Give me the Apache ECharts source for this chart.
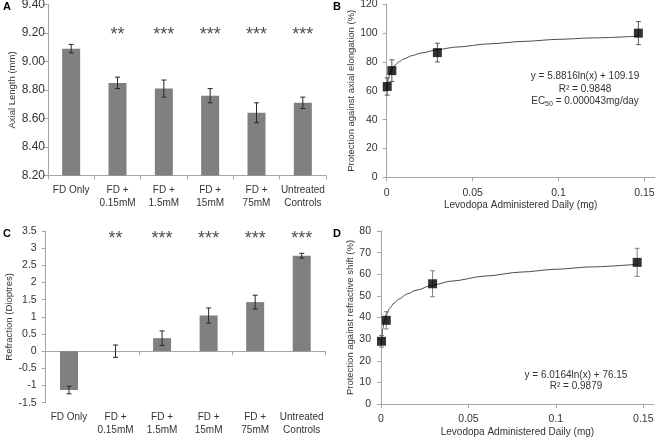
<!DOCTYPE html>
<html><head><meta charset="utf-8">
<script src="https://cdn.jsdelivr.net/npm/echarts/dist/echarts.min.js"></script>
<style>html,body{margin:0;padding:0;background:#fff}#c{width:658px;height:438px}</style>
</head><body><div id="c"></div>
<script>
// ---- data ----
const categories = ['FD Only', 'FD +\n0.15mM', 'FD +\n1.5mM', 'FD +\n15mM', 'FD +\n75mM', 'Untreated\nControls'];
const axialLength = [9.09, 8.85, 8.81, 8.76, 8.64, 8.71];
const axialLengthErr = [0.03, 0.04, 0.06, 0.05, 0.07, 0.04];
const refraction = [-1.13, 0.0, 0.38, 1.04, 1.43, 2.78];
const refractionErr = [0.11, 0.18, 0.21, 0.22, 0.20, 0.07];
const significance = ['', '**', '***', '***', '***', '***'];
const starLevelA = 9.185;
const starLevelC = 3.28;
const doseMg = [0.0003, 0.003, 0.0295, 0.1465];
const protectionAxial = [63, 74, 86.5, 100];
const protectionAxialErr = [6, 7.5, 6.5, 8];
const protectionRefraction = [29, 38.7, 55.6, 65.5];
const protectionRefractionErr = [2.7, 4, 6, 6.5];
const trendDose = [0.0003, 0.001, 0.002, 0.003, 0.005, 0.0075, 0.01, 0.015, 0.02, 0.03, 0.04, 0.06, 0.08, 0.1, 0.12, 0.1465];
const trendAxial = [61.5, 68.6, 72.6, 75.0, 78.0, 80.4, 82.1, 84.5, 86.2, 88.6, 90.3, 92.6, 94.3, 95.7, 96.7, 97.9];
const trendRefraction = [27.4, 34.6, 38.8, 41.2, 44.3, 46.7, 48.4, 50.9, 52.6, 55.1, 56.8, 59.2, 61.0, 62.3, 63.4, 64.6];
const yTicksA = {min: 8.2, max: 9.4, interval: 0.2};
const yTicksC = {min: -1.5, max: 3.5, interval: 0.5};
const yTicksB = {min: 0, max: 120, interval: 20};
const yTicksD = {min: 0, max: 80, interval: 10};
const xTicksDose = {min: 0, max: 0.156, interval: 0.05};

// ---- styling ----
const FONT = 'Liberation Sans';
const TXT = '#333333';
const AX = '#a6a6a6';
const BAR = '#808080';

function errorBarRender(color, capHalf) {
  return function (params, api) {
    const x = api.value(0);
    const lo = api.coord([x, api.value(1)]);
    const hi = api.coord([x, api.value(2)]);
    const st = {stroke: color, lineWidth: 1};
    return {type: 'group', children: [
      {type: 'line', shape: {x1: lo[0], y1: lo[1], x2: hi[0], y2: hi[1]}, style: st},
      {type: 'line', shape: {x1: lo[0] - capHalf, y1: lo[1], x2: lo[0] + capHalf, y2: lo[1]}, style: st},
      {type: 'line', shape: {x1: hi[0] - capHalf, y1: hi[1], x2: hi[0] + capHalf, y2: hi[1]}, style: st}
    ]};
  };
}
const errData = (xs, vals, errs) => vals.map((v, i) => [xs[i], v - errs[i], v + errs[i]]);
const idx = categories.map((c, i) => i);
const starData = (level) => significance.map((s, i) => [i, level, s]).filter(d => d[2]);

function catAxis(grid, opts) {
  return Object.assign({
    type: 'category', gridIndex: grid, data: categories, boundaryGap: true,
    axisLine: {show: true, onZero: false, lineStyle: {color: AX}},
    axisTick: {show: true, length: 4, lineStyle: {color: AX}},
    axisLabel: {interval: 0, color: TXT, fontFamily: FONT, fontSize: 10, lineHeight: 13, margin: 8},
    splitLine: {show: false}
  }, opts || {});
}
function valAxis(grid, ticks, opts) {
  return Object.assign({
    type: 'value', gridIndex: grid, min: ticks.min, max: ticks.max, interval: ticks.interval,
    axisLine: {show: true, lineStyle: {color: AX}},
    axisTick: {show: true, length: 4, lineStyle: {color: AX}},
    splitLine: {show: false},
    nameLocation: 'middle', nameRotate: 90,
    nameTextStyle: {color: TXT, fontFamily: FONT, fontSize: 9.5}
  }, opts || {});
}
const xNameStyle = {color: TXT, fontFamily: FONT, fontSize: 10};

const option = {
  animation: false,
  backgroundColor: '#fff',
  textStyle: {fontFamily: FONT},
  grid: [
    {left: 48, top: 4.5, width: 278, height: 171, outerBoundsMode: 'none'},
    {left: 386.7, top: 4.3, width: 268, height: 173, outerBoundsMode: 'none'},
    {left: 45.7, top: 231, width: 279.3, height: 171.7, outerBoundsMode: 'none'},
    {left: 381, top: 231, width: 272.8, height: 173, outerBoundsMode: 'none'}
  ],
  xAxis: [
    catAxis(0),
    valAxis(1, xTicksDose, {nameRotate: 0, name: 'Levodopa Administered Daily (mg)', nameGap: 23, nameTextStyle: xNameStyle,
      axisLabel: {color: TXT, fontFamily: FONT, fontSize: 10.5, margin: 10, showMaxLabel: false}}),
    catAxis(2, {axisLine: {show: false, onZero: false}, axisTick: {show: false}}),
    valAxis(3, xTicksDose, {nameRotate: 0, name: 'Levodopa Administered Daily (mg)', nameGap: 23, nameTextStyle: xNameStyle,
      axisLabel: {color: TXT, fontFamily: FONT, fontSize: 10.5, margin: 10, showMaxLabel: false}}),
    catAxis(2, {position: 'bottom', axisLine: {show: true, onZero: true, lineStyle: {color: AX}}, axisLabel: {show: false}})
  ],
  yAxis: [
    valAxis(0, yTicksA, {name: 'Axial Length (mm)', nameGap: 31,
      axisLabel: {color: TXT, fontFamily: FONT, fontSize: 12, margin: 3, formatter: v => v.toFixed(2)}}),
    valAxis(1, yTicksB, {name: 'Protection against axial elongation (%)', nameGap: 21,
      axisLabel: {color: TXT, fontFamily: FONT, fontSize: 10.5, margin: 9}}),
    valAxis(2, yTicksC, {name: 'Refraction (Dioptres)', nameGap: 23,
      axisLabel: {color: TXT, fontFamily: FONT, fontSize: 10.5, margin: 9}}),
    valAxis(3, yTicksD, {name: 'Protection against refractive shift (%)', nameGap: 16,
      axisLabel: {color: TXT, fontFamily: FONT, fontSize: 10.5, margin: 10}})
  ],
  series: [
    {type: 'bar', xAxisIndex: 0, yAxisIndex: 0, data: axialLength, barWidth: 18,
      itemStyle: {color: BAR}},
    {type: 'custom', xAxisIndex: 0, yAxisIndex: 0, data: errData(idx, axialLength, axialLengthErr),
      renderItem: errorBarRender('#262626', 2.5), encode: {x: 0, y: [1, 2]}, z: 5},
    {type: 'scatter', xAxisIndex: 0, yAxisIndex: 0, data: starData(starLevelA), symbolSize: 0,
      label: {show: true, position: 'inside', formatter: p => p.data[2], fontSize: 18, color: '#1a1a1a', fontFamily: FONT}},
    {type: 'bar', xAxisIndex: 2, yAxisIndex: 2, data: refraction, barWidth: 18,
      itemStyle: {color: BAR}},
    {type: 'custom', xAxisIndex: 2, yAxisIndex: 2, data: errData(idx, refraction, refractionErr),
      renderItem: errorBarRender('#262626', 2.5), encode: {x: 0, y: [1, 2]}, z: 5},
    {type: 'scatter', xAxisIndex: 2, yAxisIndex: 2, data: starData(starLevelC), symbolSize: 0,
      label: {show: true, position: 'inside', formatter: p => p.data[2], fontSize: 18, color: '#1a1a1a', fontFamily: FONT}},
    {type: 'line', xAxisIndex: 1, yAxisIndex: 1, data: trendDose.map((d, i) => [d, trendAxial[i]]),
      showSymbol: false, smooth: 0.3, smoothMonotone: 'x', lineStyle: {color: '#4d4d4d', width: 1}},
    {type: 'custom', xAxisIndex: 1, yAxisIndex: 1, data: errData(doseMg, protectionAxial, protectionAxialErr),
      renderItem: errorBarRender('#595959', 2.5), encode: {x: 0, y: [1, 2]}, z: 3},
    {type: 'scatter', xAxisIndex: 1, yAxisIndex: 1, data: doseMg.map((d, i) => [d, protectionAxial[i]]),
      symbol: 'rect', symbolSize: 9, itemStyle: {color: '#000'}, z: 4},
    {type: 'line', xAxisIndex: 3, yAxisIndex: 3, data: trendDose.map((d, i) => [d, trendRefraction[i]]),
      showSymbol: false, smooth: 0.3, smoothMonotone: 'x', lineStyle: {color: '#4d4d4d', width: 1}},
    {type: 'custom', xAxisIndex: 3, yAxisIndex: 3, data: errData(doseMg, protectionRefraction, protectionRefractionErr),
      renderItem: errorBarRender('#7f7f7f', 2.5), encode: {x: 0, y: [1, 2]}, z: 3},
    {type: 'scatter', xAxisIndex: 3, yAxisIndex: 3, data: doseMg.map((d, i) => [d, protectionRefraction[i]]),
      symbol: 'rect', symbolSize: 9, itemStyle: {color: '#000'}, z: 4}
  ],
  graphic: [
    {type: 'text', left: 3, top: 1, style: {text: 'A', font: 'bold 11px ' + FONT, fill: '#000'}},
    {type: 'text', left: 333, top: 1, style: {text: 'B', font: 'bold 11px ' + FONT, fill: '#000'}},
    {type: 'text', left: 3, top: 228, style: {text: 'C', font: 'bold 11px ' + FONT, fill: '#000'}},
    {type: 'text', left: 333, top: 228, style: {text: 'D', font: 'bold 11px ' + FONT, fill: '#000'}},
    {type: 'text', x: 585, y: 70, style: {
      text: 'y = 5.8816ln(x) + 109.19\nR² = 0.9848\nEC{sub|50} = 0.000043mg/day',
      align: 'center', lineHeight: 12.5, font: '10px ' + FONT, fill: TXT,
      rich: {sub: {fontSize: 7, verticalAlign: 'bottom', fill: TXT, fontFamily: FONT, padding: [4, 0, 0, 0]}}}},
    {type: 'text', x: 576, y: 369, style: {
      text: 'y = 6.0164ln(x) + 76.15\nR² = 0.9879',
      align: 'center', lineHeight: 11.5, font: '10px ' + FONT, fill: TXT}}
  ]
};
const chart = echarts.init(document.getElementById('c'), null, {renderer: 'canvas'});
chart.setOption(option);
</script>
</body></html>
